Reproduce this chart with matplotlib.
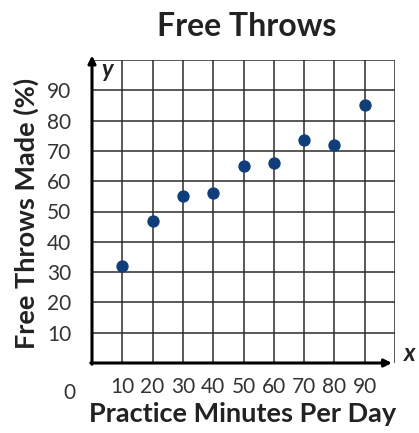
import matplotlib
matplotlib.use("Agg")
from matplotlib import pyplot as plt

minutes = [10, 20, 30, 40, 50, 60, 70, 80, 90]
made_pct = [32, 47, 55, 56, 65, 66, 73.5, 72, 85]
x_ticks = [10, 20, 30, 40, 50, 60, 70, 80, 90]
y_ticks = [10, 20, 30, 40, 50, 60, 70, 80, 90]

W, H = 419, 433
plt.rcParams['font.family'] = ['Lato', 'DejaVu Sans']

fig = plt.figure(figsize=(W / 100, H / 100), dpi=100)
fig.patch.set_facecolor('white')
# axes box in pixels: left 92, right 395, top 60, bottom 363
ax = fig.add_axes([92 / W, 1 - 363 / H, (395 - 92) / W, (363 - 60) / H])
ax.set_xlim(0, 100)
ax.set_ylim(0, 100)

grid_kw = dict(color='#2b2b2b', lw=1.1, zorder=1)
for v in range(10, 101, 10):
    ax.axvline(v, **grid_kw)
    ax.axhline(v, **grid_kw)

for s in ax.spines.values():
    s.set_visible(False)

# axes with arrows
ax.annotate('', xy=(0, 101.5), xytext=(0, -0.4),
            arrowprops=dict(arrowstyle='-|>', lw=2.2, color='black', mutation_scale=11,
                            shrinkA=0, shrinkB=0), annotation_clip=False, zorder=3)
ax.annotate('', xy=(99, 0), xytext=(-0.4, 0),
            arrowprops=dict(arrowstyle='-|>', lw=2.2, color='black', mutation_scale=11,
                            shrinkA=0, shrinkB=0), annotation_clip=False, zorder=3)

ax.scatter(minutes, made_pct, s=62, color='#0e3f7c', zorder=4, clip_on=False)

ax.set_xticks(x_ticks)
ax.set_yticks(y_ticks)
ax.tick_params(length=0, labelsize=15, labelcolor='#333333')
ax.tick_params(axis='x', pad=10)
ax.tick_params(axis='y', pad=15)

ax.text(-7.3, -6.5, '0', ha='center', va='top', fontsize=15, color='#333333', clip_on=False)
ax.text(3.0, 97, 'y', ha='left', va='center', fontsize=17, fontweight='bold',
        style='italic', color='#222222')
ax.text(105, 3, 'x', ha='center', va='center', fontsize=17, fontweight='bold',
        style='italic', color='#222222', clip_on=False)

fig.text(247 / W, 1 - 26 / H, 'Free Throws', ha='center', va='center',
         fontsize=23, fontweight='bold', color='#222222')
fig.text(243 / W, 1 - 414 / H, 'Practice Minutes Per Day', ha='center', va='center',
         fontsize=19.5, fontweight='bold', color='#222222')
fig.text(26 / W, 1 - 213 / H, 'Free Throws Made (%)', ha='center', va='center',
         rotation=90, fontsize=19.5, fontweight='bold', color='#222222')

fig.savefig('out.png', dpi=100)
